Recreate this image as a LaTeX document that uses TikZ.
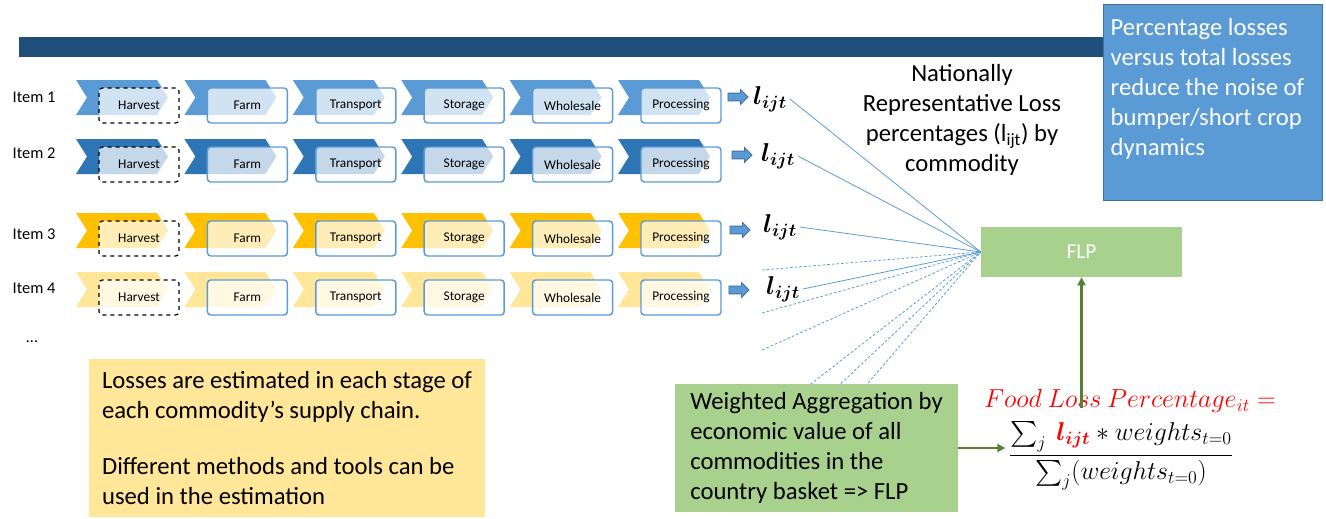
\documentclass[tikz,border=0pt]{standalone}
\usepackage{amsmath,bm}
\usepackage{fontspec}
\setmainfont{Carlito}
\usetikzlibrary{arrows.meta,shapes.arrows}
\definecolor{barblue}{HTML}{1F4E79}
\definecolor{cblue}{HTML}{5B9BD5}
\definecolor{cdblue}{HTML}{2E75B6}
\definecolor{cgold}{HTML}{FFC000}
\definecolor{cpale}{HTML}{FFE699}
\definecolor{cgreen}{HTML}{A9D18E}
\definecolor{cdgreen}{HTML}{548235}
\definecolor{cedge}{HTML}{41719C}
\begin{document}
\begin{tikzpicture}[x=0.75pt,y=-0.75pt,
  stagebox/.style={draw=cblue, line width=1.1pt, fill=white, fill opacity=0.72, text opacity=1,
    rounded corners=2.5pt, minimum width=60pt, minimum height=26.25pt, inner sep=0pt,
    font=\fontsize{10}{11}\selectfont},
  harvbox/.style={stagebox, draw=black, dashed, line width=0.9pt},
  itemlab/.style={anchor=west, font=\fontsize{12.3}{14}\selectfont},
  smallarrow/.style={single arrow, fill=cblue, draw=cedge, line width=0.6pt, inner sep=2.6pt,
    minimum height=15pt, single arrow head extend=2.7pt},
  lijt/.style={font=\fontsize{17.28}{20}\selectfont, inner sep=2pt},
  feed/.style={cblue, line width=0.6pt},
  feeddash/.style={cblue, line width=0.6pt, dash pattern=on 2pt off 1.5pt},
  bigtxt/.style={font=\fontsize{18.5}{22.5}\selectfont},
  garrow/.style={cdgreen, line width=2.2pt, -{Triangle[length=6pt,width=6pt]}}
]
\useasboundingbox (0,0) rectangle (1326,518);
\fill[barblue] (19,37) rectangle (1310,57);

% chevrons and stage boxes
\foreach \r/\ty/\col in {1/80/cblue,2/139/cdblue,3/213/cgold,4/272/cpale}{
  \foreach \k/\lab in {0/Harvest,1/Farm,2/Transport,3/Storage,4/Wholesale,5/Processing}{
    \pgfmathsetmacro{\xx}{76+108.4*\k}
    \fill[\col] (\xx,\ty) -- ++(81,0) -- ++(11,17.5) -- ++(-11,17.5) -- ++(-81,0) -- ++(11,-17.5) -- cycle;
    \ifnum\k=0 \tikzset{curbox/.style=harvbox}\else\tikzset{curbox/.style=stagebox}\fi
    \node[curbox] (s\r-\k) at (\xx+63,\ty+25.5) {\lab};
  }
}

\node[itemlab] (item1) at (8,97) {Item 1};
\node[itemlab] (item2) at (8,153) {Item 2};
\node[itemlab] (item3) at (8,234) {Item 3};
\node[itemlab] (item4) at (8,288) {Item 4};
\node[font=\fontsize{12}{14}\selectfont] (dots) at (32,342) {...};

\node[smallarrow] (a1) at (736,97) {};
\node[smallarrow] (a2) at (740,155) {};
\node[smallarrow] (a3) at (738,230) {};
\node[smallarrow] (a4) at (737,290) {};

\node[lijt] (l1) at (770,99) {\scalebox{1.12}{$\bm{l_{ijt}}$}};
\node[lijt] (l2) at (778,156) {\scalebox{1.12}{$\bm{l_{ijt}}$}};
\node[lijt] (l3) at (780,227) {\scalebox{1.12}{$\bm{l_{ijt}}$}};
\node[lijt] (l4) at (783,289) {\scalebox{1.12}{$\bm{l_{ijt}}$}};

% FLP
\node[fill=cgreen, minimum width=150.75pt, minimum height=37.5pt, text=white,
  font=\fontsize{16}{18}\selectfont] (flp) at (1081.5,252) {FLP};

% dashed feeders
\coordinate (d1) at (762,270);
\coordinate (d2) at (762,313);
\coordinate (d3) at (762,350);
\coordinate (d4) at (803,390);
\coordinate (d5) at (834,390);
\coordinate (d6) at (862,390);
\foreach \d in {d1,d2,d3,d4,d5,d6}{\draw[feeddash] (\d) -- (flp.west);}
\foreach \l in {l1,l2,l3,l4}{\draw[feed] (\l.east) -- (flp.west);}

\node[bigtxt, align=center] (nat) at (962,120)
  {Nationally\\Representative Loss\\percentages (l\textsubscript{ijt}) by\\commodity};

% note box top right
\node[fill=cblue, draw=cedge, line width=0.6pt, anchor=north west,
  minimum width=164.25pt, minimum height=147pt] (note) at (1103,4) {};
\node[bigtxt, align=left, text=white, anchor=north west] (notetxt) at (1106,14)
  {Percentage losses\\versus total losses\\reduce the noise of\\bumper/short crop\\dynamics};

% yellow box
\node[fill=cpale, minimum width=297pt, minimum height=118.5pt, align=left, bigtxt] (est) at (287,438)
  {Losses are estimated in each stage of\\each commodity’s supply chain.\\[20pt]Different methods and tools can be\\used in the estimation};

% green box
\node[fill=cgreen, minimum width=212.25pt, minimum height=96pt, align=left, bigtxt] (wagg) at (816.5,448)
  {Weighted Aggregation by\\economic value of all\\commodities in the\\country basket => FLP};

% formula
\node[font=\fontsize{17.28}{20}\selectfont, text=red, inner sep=0pt] (flpeq) at (1130,401)
  {\scalebox{1.13}{$Food\ Loss\ Percentage_{it} =$}};
\node[font=\fontsize{17.28}{20}\selectfont, inner sep=0pt] (frac) at (1121,456)
  {\scalebox{1.12}{$\dfrac{\sum_j \ \textcolor{red}{\bm{l_{ijt}}} * weights_{t=0}}{\sum_j (weights_{t=0})}$}};

\draw[garrow] (wagg.east) -- ([xshift=-2pt]wagg.east -| frac.west);
\draw[garrow] ([yshift=-14pt]flpeq.north -| flp.south) -- (flp.south);
\end{tikzpicture}
\end{document}
